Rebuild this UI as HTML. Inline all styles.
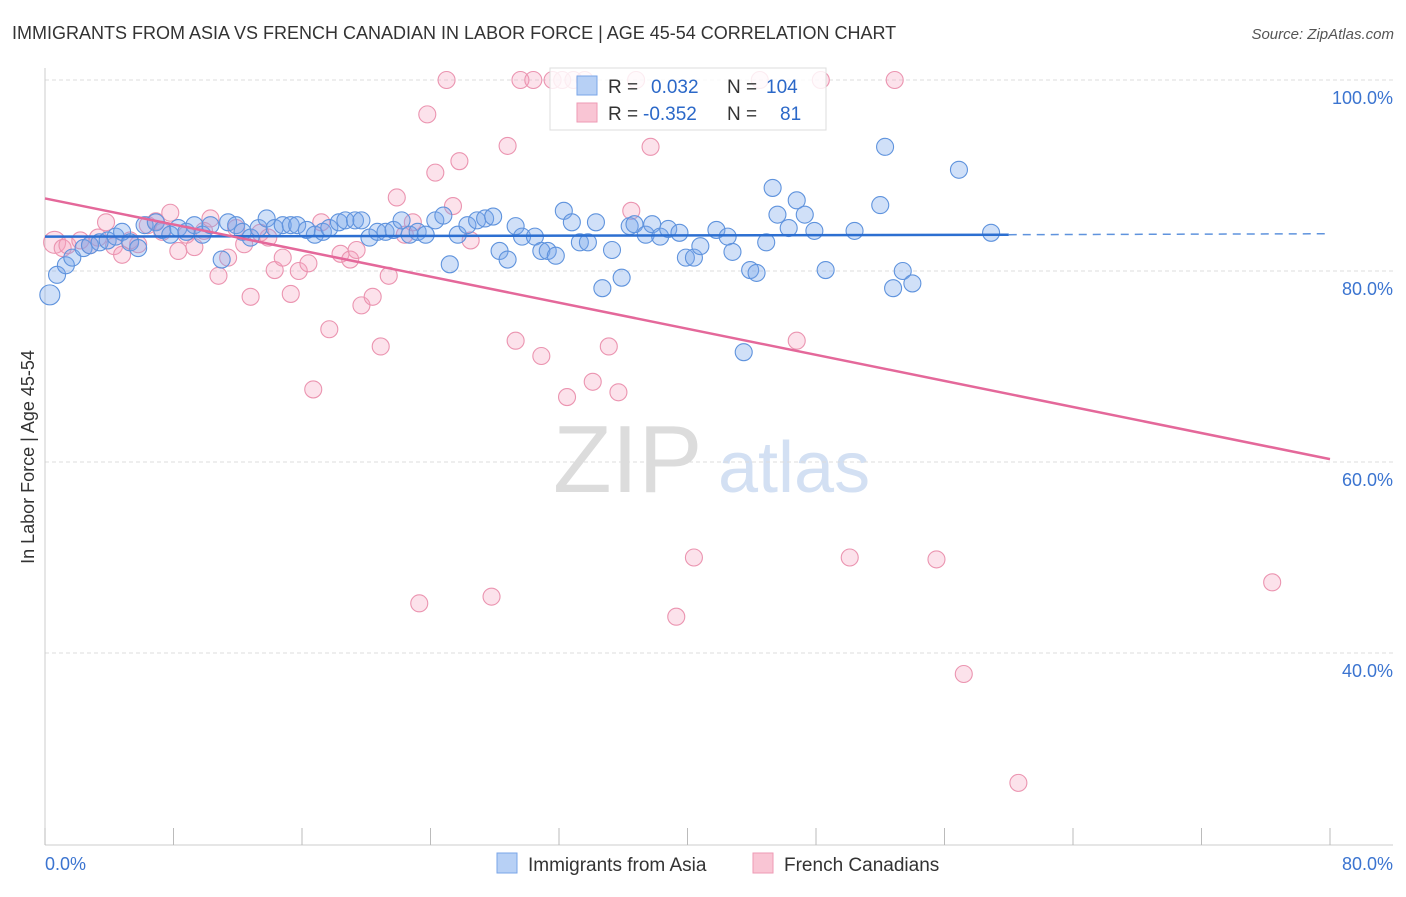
<!DOCTYPE html>
<html><head><meta charset="utf-8"><style>
body{margin:0;background:#fff;font-family:"Liberation Sans",sans-serif}
svg text{font-family:"Liberation Sans",sans-serif}
</style></head><body>
<svg id="chart" width="1406" height="892" viewBox="0 0 1406 892" xmlns="http://www.w3.org/2000/svg">
<text x="12" y="39" font-size="18" fill="#333">IMMIGRANTS FROM ASIA VS FRENCH CANADIAN IN LABOR FORCE | AGE 45-54 CORRELATION CHART</text>
<text x="1394" y="39" font-size="15" fill="#555" text-anchor="end" font-style="italic">Source: ZipAtlas.com</text>
<g>
<text x="553" y="492" font-size="96" fill="#dcdcdc" font-family="Liberation Serif, serif">ZIP</text>
<text x="718" y="492" font-size="72" fill="#d3e0f3">atlas</text>
</g>
<g id="grid"></g>
<g id="axes"></g>
<g id="pts"></g>
<g id="trends"></g>
<text transform="translate(34,457) rotate(-90)" font-size="18" fill="#333" text-anchor="middle">In Labor Force | Age 45-54</text>
<g>
<rect x="550" y="68" width="276" height="62" fill="rgba(255,255,255,0.82)" stroke="#ddd"/>
<rect x="577" y="76" width="20" height="19" fill="#b7d0f5" stroke="#7aa6e8"/>
<rect x="577" y="103" width="20" height="19" fill="#f9c5d4" stroke="#ee9ab4"/>
<text x="608" y="93" font-size="19" fill="#333">R =</text><text x="651" y="93" font-size="19" fill="#2b68c8">0.032</text>
<text x="727" y="93" font-size="19" fill="#333">N =</text><text x="766" y="93" font-size="19" fill="#2b68c8">104</text>
<text x="608" y="120" font-size="19" fill="#333">R =</text><text x="643" y="120" font-size="19" fill="#2b68c8">-0.352</text>
<text x="727" y="120" font-size="19" fill="#333">N =</text><text x="780" y="120" font-size="19" fill="#2b68c8">81</text>
</g>
<g>
<rect x="497" y="853" width="20" height="20" fill="#b7d0f5" stroke="#7aa6e8"/>
<text x="528" y="871" font-size="19" fill="#333">Immigrants from Asia</text>
<rect x="753" y="853" width="20" height="20" fill="#f9c5d4" stroke="#ee9ab4"/>
<text x="784" y="871" font-size="19" fill="#333">French Canadians</text>
</g>
</svg>
<script>
const yTicks=[100,80,60,40];
const yTickLabels=["100.0%","80.0%","60.0%","40.0%"];
const xTickCount=10;
const xLabels=["0.0%","80.0%"];
const blueX=[0.3,0.75,1.3,1.7,2.4,2.8,3.4,3.9,4.4,4.8,5.3,5.8,6.2,6.9,7.3,7.8,8.3,8.8,9.3,9.8,10.3,11.0,11.4,11.9,12.3,12.8,13.3,13.8,14.3,14.8,15.3,15.7,16.3,16.8,17.3,17.7,18.3,18.7,19.3,19.7,20.2,20.7,21.2,21.7,22.2,22.7,23.2,23.7,24.3,24.8,25.2,25.7,26.3,26.9,27.4,27.9,28.3,28.8,29.3,29.7,30.5,30.9,31.3,31.8,32.3,32.8,33.3,33.8,34.3,34.7,35.3,35.9,36.4,36.7,37.4,37.8,38.3,38.8,39.5,39.9,40.4,40.8,41.8,42.5,42.8,43.5,43.9,44.3,44.9,45.3,45.6,46.3,46.8,47.3,47.9,48.6,50.4,52.0,52.3,52.8,53.4,54.0,56.9,58.9];
const blueY=[77.5,79.6,80.6,81.4,82.4,82.7,83.0,83.2,83.6,84.1,83.0,82.4,84.8,85.1,84.3,83.8,84.5,84.1,84.8,83.8,84.8,81.2,85.1,84.8,84.1,83.5,84.5,85.5,84.5,84.8,84.8,84.8,84.3,83.8,84.1,84.5,85.1,85.3,85.3,85.3,83.5,84.1,84.1,84.3,85.3,83.8,84.1,83.8,85.3,85.8,80.7,83.8,84.8,85.3,85.5,85.7,82.1,81.2,84.7,83.6,83.6,82.1,82.1,81.6,86.3,85.1,83.0,83.0,85.1,78.2,82.2,79.3,84.7,84.9,83.8,84.9,83.6,84.4,84.0,81.4,81.4,82.6,84.3,83.6,82.0,71.5,80.1,79.8,83.0,88.7,85.9,84.5,87.4,85.9,84.2,80.1,84.2,86.9,93.0,78.2,80.0,78.7,90.6,84.0];
const pinkX=[0.6,1.1,1.4,2.2,2.8,3.3,3.8,4.3,4.8,5.3,5.8,6.4,6.9,7.3,7.8,8.3,8.8,9.3,9.9,10.3,10.8,11.4,11.9,12.4,12.8,13.4,13.9,14.3,14.8,15.3,15.8,16.4,16.7,17.2,17.7,18.4,19.0,19.4,19.7,20.4,20.9,21.4,21.9,22.4,22.9,23.3,23.8,24.3,25.0,25.4,25.8,26.5,27.8,28.8,29.3,29.6,30.4,30.9,31.6,32.2,32.5,32.9,33.6,34.1,35.1,35.7,36.5,36.8,37.7,39.3,40.4,44.5,46.8,48.3,50.1,52.9,55.5,57.2,60.6,76.4];
const pinkY=[83.0,82.4,82.7,83.2,82.7,83.5,85.1,82.6,81.7,83.2,82.8,84.8,85.2,84.1,86.1,82.1,83.8,82.5,84.2,85.5,79.5,81.4,84.5,82.8,77.3,84.0,83.5,80.1,81.4,77.6,80.0,80.8,67.6,85.1,73.9,81.8,81.2,82.2,76.4,77.3,72.1,79.5,87.7,83.8,85.1,45.2,96.4,90.3,100,86.8,91.5,83.2,45.9,93.1,72.7,100,100,71.1,100,100,66.8,100,100,68.4,72.1,67.3,86.3,100,93.0,43.8,50.0,100,72.7,100,50.0,100,49.8,37.8,26.4,47.4];
const blueTrend=[[0,83.6],[60,83.8]];
const blueTrendExt=[[60,83.8],[80,83.9]];
const pinkTrend=[[0,87.6],[80,60.3]];

const NS="http://www.w3.org/2000/svg";
const X0=45,X1=1330;
function sx(v){return X0+(X1-X0)*v/80;}
function sy(v){return 80+(100-v)*9.55;}
function mk(t,a,p){const e=document.createElementNS(NS,t);for(const k in a)e.setAttribute(k,a[k]);p.appendChild(e);return e;}
const grid=document.getElementById('grid'),axes=document.getElementById('axes'),pts=document.getElementById('pts'),tr=document.getElementById('trends');
yTicks.forEach((t,i)=>{
  const l=mk('line',{x1:X0,x2:1393,y1:sy(t),y2:sy(t),stroke:'#ddd','stroke-dasharray':'4,3'},grid);
  
  
  const tx=mk('text',{x:1393,y:sy(t)+24,'font-size':18,fill:'#3b74d0','text-anchor':'end'},axes);
  tx.textContent=yTickLabels[i];
  
  
});
const ya=mk('line',{x1:X0,x2:X0,y1:68,y2:845,stroke:'#ccc'},axes);


const xa=mk('line',{x1:X0,x2:1393,y1:845,y2:845,stroke:'#ccc'},axes);


for(let i=0;i<=xTickCount;i++){
  const v=80*i/xTickCount;
  const t=mk('line',{x1:sx(v),x2:sx(v),y1:828,y2:845,stroke:'#bbb'},axes);
  
  
}
const xl0=mk('text',{x:45,y:870,'font-size':18,fill:'#3b74d0'},axes);xl0.textContent=xLabels[0];


const xl1=mk('text',{x:1393,y:870,'font-size':18,fill:'#3b74d0','text-anchor':'end'},axes);xl1.textContent=xLabels[1];


pinkX.forEach((x,i)=>{
  const c=mk('circle',{cx:sx(x),cy:sy(pinkY[i]),r:i==0?11:8.5,fill:'rgba(244,160,188,0.3)',stroke:'#eb94b0','stroke-width':1.1},pts);
  
  
});
blueX.forEach((x,i)=>{
  const c=mk('circle',{cx:sx(x),cy:sy(blueY[i]),r:i==0?10:8.5,fill:'rgba(120,165,235,0.35)',stroke:'#5f93dd','stroke-width':1.1},pts);
  
  
});
const bl=mk('line',{x1:sx(blueTrend[0][0]),y1:sy(blueTrend[0][1]),x2:sx(blueTrend[1][0]),y2:sy(blueTrend[1][1]),stroke:'#2c6fd1','stroke-width':2.5},tr);


const bd=mk('line',{x1:sx(blueTrendExt[0][0]),y1:sy(blueTrendExt[0][1]),x2:sx(blueTrendExt[1][0]),y2:sy(blueTrendExt[1][1]),stroke:'#5f93dd','stroke-width':1.5,'stroke-dasharray':'8,6'},tr);


const pl=mk('line',{x1:sx(pinkTrend[0][0]),y1:sy(pinkTrend[0][1]),x2:sx(pinkTrend[1][0]),y2:sy(pinkTrend[1][1]),stroke:'#e4689a','stroke-width':2.5},tr);


</script>
</body></html>
